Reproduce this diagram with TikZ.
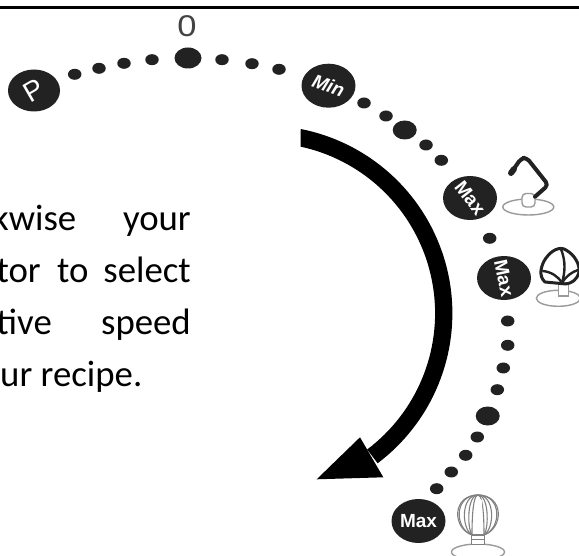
\documentclass[tikz,border=0pt]{standalone}
\usepackage{fontspec}
\setmainfont{Carlito}
\newfontfamily\dialfont{Liberation Sans}
\usetikzlibrary{shapes.geometric}
\definecolor{dial}{HTML}{222222}
\definecolor{icongray}{HTML}{9A9A9A}
\tikzset{
  smalldot/.style={ellipse,fill=dial,inner sep=0pt,minimum width=13.5pt,minimum height=11pt},
  bigdot/.style={ellipse,fill=dial,inner sep=0pt,minimum width=24pt,minimum height=19pt},
  topdot/.style={ellipse,fill=dial,inner sep=0pt,minimum width=27pt,minimum height=21pt},
  speedmark/.style={ellipse,fill=dial,inner sep=0pt,minimum width=54pt,minimum height=44pt},
  speedtext/.style={text=white,inner sep=0pt,font=\dialfont\fontsize{19}{20}\selectfont\bfseries},
  bodytext/.style={inner sep=0pt,text=black,font=\fontsize{36.8}{40}\selectfont},
  darkwire/.style={draw=dial,line width=3pt,line cap=round,line join=round},
  thinwire/.style={draw=icongray,line width=1.4pt},
  whiskwire/.style={draw=gray,line width=1.1pt}
}
\begin{document}
\begin{tikzpicture}[x=1pt,y=-1pt]
\useasboundingbox (0,0) rectangle (579,556);
\clip (0,0) rectangle (579,556);
\coordinate (ruleL) at (0,7.5);
\coordinate (ruleR) at (579,7.5);
\draw[line width=2.2pt] (ruleL) -- (ruleR);
% dial
\node[speedmark,minimum width=52pt,minimum height=42pt] (pmark) at (34,90.5) {};
\node[inner sep=0pt,text=white,rotate=30,font=\dialfont\fontsize{28}{28}\selectfont] (ptext) at (pmark) {P};
\foreach \n/\px/\py in {a/74.7/74.3,b/99/68.3,c/124/63.3,d/152/59.7,e/222/59.7,f/252/63.7,g/279/69.3,
  h/364/103,i/386/116,j/426/145,k/441.3/160.3,l/489.7/238.3,m/507.7/321,n/507.7/345.3,o/503.3/368,
  p/497.3/389.7,q/477.3/437,r/465.7/455.3,s/451.3/472,t/436.7/488.7}
  \node[smalldot] (dot\n) at (\px,\py) {};
\node[topdot] (zero) at (188,58) {};
\node[inner sep=0pt,text=dial!85!white,xscale=1.15,font=\dialfont\fontsize{30}{30}\selectfont] (zerotext) at (187,26) {0};
\node[bigdot] (bigA) at (404.7,130) {};
\node[bigdot] (bigB) at (487.7,416) {};
\node[speedmark] (minmark) at (328.5,85.7) {};
\node[speedtext,rotate=-20,font=\dialfont\fontsize{19}{20}\selectfont\bfseries\itshape] (mintext) at (minmark) {Min};
\node[speedmark] (maxA) at (470,198) {};
\node[speedtext,rotate=-52] (maxAtext) at (maxA) {Max};
\node[speedmark] (maxB) at (504,278) {};
\node[speedtext,rotate=-78] (maxBtext) at (maxB) {Max};
\node[speedmark] (maxC) at (418.5,521) {};
\node[speedtext] (maxCtext) at (maxC) {Max};
% big arrow
\fill[black] plot[domain=-78.9:53,samples=70] ({264.6+187.8*cos(\x)},{313.3+187.8*sin(\x)})
  -- plot[domain=53:-77.8,samples=70] ({264.6+170.5*cos(\x)},{313.3+170.5*sin(\x)}) -- cycle;
\fill[black] (360,437.3) -- (316.7,479.3) -- (383.3,477.3) -- cycle;
% hook icon
\draw[thinwire] (528.3,207) ellipse (25.5 and 8);
\draw[thinwire,fill=white,rounded corners=4pt] (522,207) rectangle (535,193.5);
\draw[darkwire,line width=4pt,rounded corners=4pt] (511,173) -- (521,158.5) -- (526.5,157.5) -- (548.3,185) -- (535,196.7);
\draw[dial,line width=6pt,line cap=round] (511,173) -- (514,169);
% beater icon
\draw[thinwire] (558.3,298.3) ellipse (22 and 8);
\draw[thinwire,fill=white] (558.5,283) rectangle (568.5,296);
\draw[darkwire] (545,282) .. controls (538,276) and (541,265) .. (546,258) .. controls (552,250) and (560,246) .. (566,250)
  .. controls (575,255) and (580,265) .. (579,272) .. controls (577,280) and (572,283) .. (566,284) -- (545,282);
\draw[darkwire,line width=2.4pt] (562,283) .. controls (565,272) and (566,262) .. (561,249);
\draw[darkwire,line width=2.4pt] (543,271) .. controls (551,272) and (558,276) .. (562,283);
\draw[darkwire,line width=2.4pt] (578,270) .. controls (572,272) and (566,276) .. (562,283);
% whisk icon
\draw[thinwire] (478,552) ellipse (26.5 and 8);
\foreach \w in {26,24,17,11,6}
  \draw[whiskwire] (472,535) .. controls ({478-\w},528) and ({478-\w},495) .. (478,495)
     .. controls ({478+\w},495) and ({478+\w},528) .. (484,535);
\fill[white,rounded corners=2pt] (476,499) rectangle (482,527);
\draw[whiskwire,fill=white] (471.5,535) rectangle (484.5,544.5);
\draw[whiskwire] (471.5,539.5) -- (484.5,539.5);
% text, cut off by the picture's left edge as in the reference
\node[bodytext,anchor=base east] (wordA) at (76.5,231) {kwise};
\node[bodytext,anchor=base east] (wordB) at (191,231) {your};
\node[bodytext,anchor=base east] (wordC) at (41,283) {tor};
\node[bodytext,anchor=base west] (wordD) at (57,283) {to};
\node[bodytext,anchor=base east] (wordE) at (191,283) {select};
\node[bodytext,anchor=base east] (wordF) at (52,335) {tive};
\node[bodytext,anchor=base east] (wordG) at (191,335) {speed};
\node[bodytext,anchor=base east] (wordH) at (142.5,387) {ur recipe.};
\end{tikzpicture}
\end{document}
